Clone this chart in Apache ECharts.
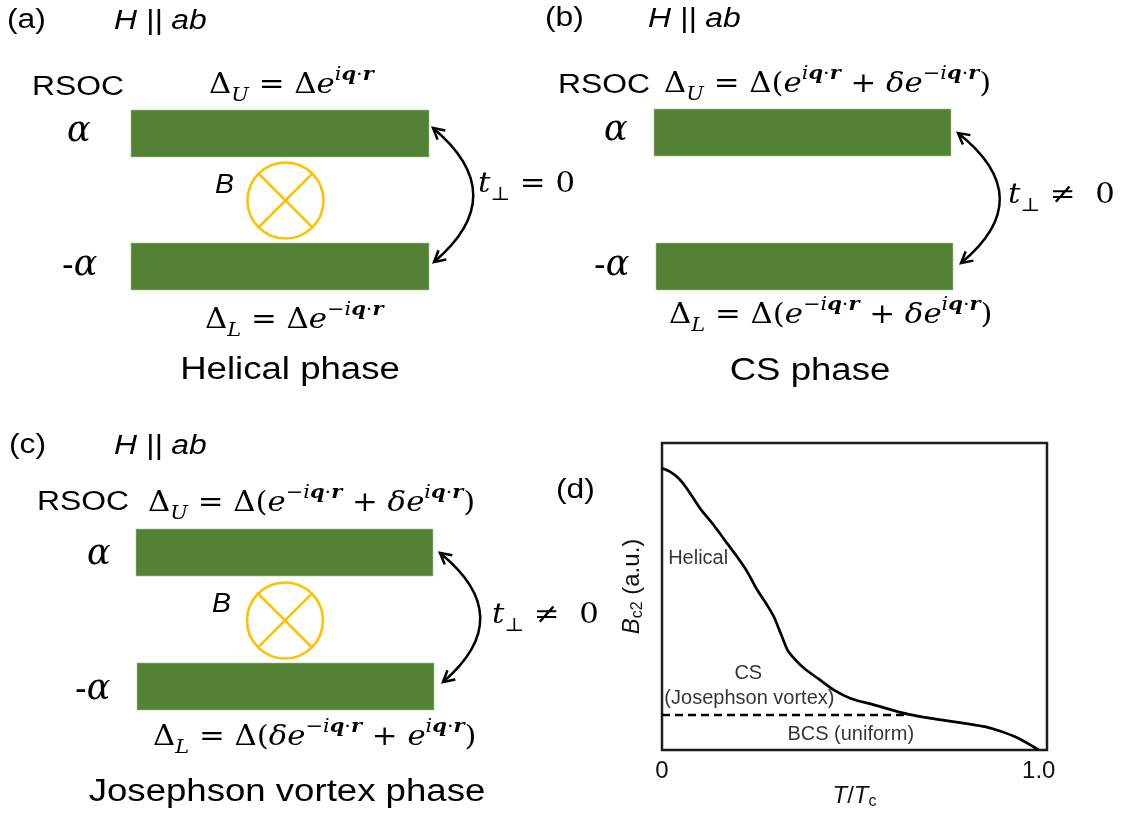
<!DOCTYPE html>
<html>
<head>
<meta charset="utf-8">
<script src="https://cdn.jsdelivr.net/npm/echarts@6/dist/echarts.min.js"></script>
<style>
  html, body { margin: 0; padding: 0; background: #ffffff; }
  #chart { width: 1122px; height: 818px; }
</style>
</head>
<body>
<div id="chart"></div>
<script>
// ---- Panel (d): upper critical field B_c2 versus reduced temperature T/Tc ----
const tOverTc = [0, 0.021, 0.044, 0.066, 0.101, 0.137, 0.173, 0.199, 0.226, 0.253, 0.279,
                 0.297, 0.315, 0.333, 0.350, 0.377, 0.413, 0.457, 0.501, 0.563, 0.655,
                 0.741, 0.813, 0.857, 0.901, 0.946, 1.0];
const bc2 = [0.918, 0.907, 0.885, 0.852, 0.787, 0.733, 0.673, 0.630, 0.581, 0.521, 0.472,
             0.434, 0.380, 0.326, 0.299, 0.266, 0.234, 0.195, 0.168, 0.147, 0.116,
             0.098, 0.085, 0.076, 0.060, 0.038, 0.0];
// CS / BCS boundary (dashed)
const boundaryT = [0, 0.655];
const boundaryB = [0.114, 0.114];
// Region annotations
const regionNames = ['Helical', 'CS', '(Josephson vortex)', 'BCS (uniform)'];
const regionT = [0.096, 0.229, 0.232, 0.501];
const regionB = [0.625, 0.248, 0.169, 0.052];
// x-axis tick labels
const xTickValues = [0, 1];
const xTickLabels = ['0', '1.0'];

const SANS = 'Liberation Sans, Arial, sans-serif';
const SERIF = 'DejaVu Serif, serif';
const GREEN = '#548235';
const GOLD = '#FFC000';
const SANS_STRETCH = 1.18;
const MATH_STRETCH = 1.1;

// ---- rich-text styles for the formulas ----
const MS = 28;
const mathRich = {
  m:  { fontFamily: SERIF, fontSize: MS, lineHeight: 40, color: '#000' },
  mi: { fontFamily: SERIF, fontSize: MS, fontStyle: 'italic', lineHeight: 40, color: '#000' },
  sub: { fontFamily: SERIF, fontSize: 19, fontStyle: 'italic', lineHeight: 28, verticalAlign: 'bottom', color: '#000' },
  subm: { fontFamily: SERIF, fontSize: 19, lineHeight: 28, verticalAlign: 'bottom', color: '#000' },
  s:  { fontFamily: SERIF, fontSize: 19, lineHeight: 20, verticalAlign: 'top', color: '#000' },
  si: { fontFamily: SERIF, fontSize: 19, fontStyle: 'italic', lineHeight: 20, verticalAlign: 'top', color: '#000' },
  sb: { fontFamily: SERIF, fontSize: 19, fontStyle: 'italic', fontWeight: 'bold', lineHeight: 20, verticalAlign: 'top', color: '#000' }
};

function phase(neg) {
  return (neg ? '{s|−}' : '') + '{si|i}{sb|q}{s|·}{sb|r}';
}
const fHelU = '{m|Δ}{sub|U}{m| = Δ}{mi|e}' + phase(false);
const fHelL = '{m|Δ}{sub|L}{m| = Δ}{mi|e}' + phase(true);
const fCsU = '{m|Δ}{sub|U}{m| = Δ(}{mi|e}' + phase(false) + '{m| + }{mi|δe}' + phase(true) + '{m|)}';
const fCsL = '{m|Δ}{sub|L}{m| = Δ(}{mi|e}' + phase(true) + '{m| + }{mi|δe}' + phase(false) + '{m|)}';
const fJvU = '{m|Δ}{sub|U}{m| = Δ(}{mi|e}' + phase(true) + '{m| + }{mi|δe}' + phase(false) + '{m|)}';
const fJvL = '{m|Δ}{sub|L}{m| = Δ(}{mi|δe}' + phase(true) + '{m| + }{mi|e}' + phase(false) + '{m|)}';
const tZero = '{mi|t}{subm|⊥}{m| = 0}';
const tNonZero = '{mi|t}{subm|⊥}{m| ≠  0}';

// ---- small drawing helpers for the bilayer schematics ----
function sansText(x, y, text, opt) {
  opt = opt || {};
  return {
    type: 'text', x: x, y: y, scaleX: opt.stretch || SANS_STRETCH, silent: true,
    style: {
      text: text, x: 0, y: 0,
      fontFamily: SANS, fontSize: opt.size || 27, fontStyle: opt.italic ? 'italic' : 'normal',
      align: opt.align || 'left', verticalAlign: 'middle', fill: '#000'
    }
  };
}
function mathText(x, y, text) {
  return {
    type: 'text', x: x, y: y, scaleX: MATH_STRETCH, silent: true,
    style: { text: text, x: 0, y: 0, rich: mathRich, align: 'left', verticalAlign: 'middle', fill: '#000' }
  };
}
function alphaText(x, y, neg) {
  return {
    type: 'text', x: x, y: y, silent: true,
    style: {
      text: neg ? '{h|-}{a|α}' : '{a|α}', x: 0, y: 0, align: 'left', verticalAlign: 'middle',
      rich: {
        h: { fontFamily: SANS, fontSize: 35, color: '#000', lineHeight: 40 },
        a: { fontFamily: SERIF, fontStyle: 'italic', fontSize: 35, color: '#000', lineHeight: 40 }
      }
    }
  };
}
function layer(x, y, w, h) {
  return { type: 'rect', silent: true, shape: { x: x, y: y, width: w, height: h },
           style: { fill: GREEN, stroke: '#a8c496', lineWidth: 0.6 } };
}
function fieldSymbol(cx, cy, r) {
  const d = r * Math.SQRT1_2;
  const st = { stroke: GOLD, lineWidth: 2.6, fill: null };
  return [
    { type: 'circle', silent: true, shape: { cx: cx, cy: cy, r: r }, style: st },
    { type: 'line', silent: true, shape: { x1: cx - d, y1: cy - d, x2: cx + d, y2: cy + d }, style: st },
    { type: 'line', silent: true, shape: { x1: cx + d, y1: cy - d, x2: cx - d, y2: cy + d }, style: st }
  ];
}
function arrowHead(tipX, tipY, fromX, fromY) {
  const dx = tipX - fromX, dy = tipY - fromY;
  const len = Math.hypot(dx, dy);
  const ux = dx / len, uy = dy / len;
  const L = 11, W = 6;
  const bx = tipX - ux * L, by = tipY - uy * L;
  return {
    type: 'polyline', silent: true,
    shape: { points: [[bx - uy * W, by + ux * W], [tipX, tipY], [bx + uy * W, by - ux * W]] },
    style: { stroke: '#000', lineWidth: 2.5, fill: null, lineJoin: 'miter' }
  };
}
function hopArrow(x1, y1, x2, y2, cpx, cpy) {
  return [
    { type: 'bezierCurve', silent: true, shape: { x1: x1, y1: y1, x2: x2, y2: y2, cpx1: cpx, cpy1: cpy },
      style: { stroke: '#000', lineWidth: 2.5, fill: null } },
    arrowHead(x1, y1, cpx, cpy),
    arrowHead(x2, y2, cpx, cpy)
  ];
}

function bilayerPanel(p) {
  let els = [];
  els.push(sansText(p.tag[0], p.tag[1], p.tag[2]));
  els.push(sansText(p.field[0], p.field[1], 'H || ab', { italic: true }));
  els.push(sansText(p.rsoc[0], p.rsoc[1], 'RSOC'));
  els.push(mathText(p.upperEq[0], p.upperEq[1], p.upperEq[2]));
  els.push(layer.apply(null, p.upperBar));
  els.push(layer.apply(null, p.lowerBar));
  els.push(alphaText(p.alpha[0], p.alpha[1], false));
  els.push(alphaText(p.minusAlpha[0], p.minusAlpha[1], true));
  if (p.field3d) {
    els.push(sansText(p.field3d.label[0], p.field3d.label[1], 'B', { italic: true, size: 27, stretch: 1.05 }));
    els = els.concat(fieldSymbol(p.field3d.c[0], p.field3d.c[1], p.field3d.c[2]));
  }
  els = els.concat(hopArrow.apply(null, p.arrow));
  els.push(mathText(p.hop[0], p.hop[1], p.hop[2]));
  els.push(mathText(p.lowerEq[0], p.lowerEq[1], p.lowerEq[2]));
  els.push(sansText(p.caption[0], p.caption[1], p.caption[2], { align: 'center', size: 31 }));
  return els;
}

const diagram = []
  .concat(bilayerPanel({
    tag: [7, 21, '(a)'], field: [114, 21], rsoc: [32, 88],
    upperEq: [209, 86, fHelU], lowerEq: [205, 321, fHelL],
    upperBar: [131, 110, 298, 47], lowerBar: [131, 243, 298, 47],
    alpha: [67, 132], minusAlpha: [62, 266],
    field3d: { label: [215, 185], c: [285.5, 200.5, 38] },
    arrow: [433, 128, 434, 262, 513, 195], hop: [478, 185, tZero],
    caption: [290, 370, 'Helical phase']
  }))
  .concat(bilayerPanel({
    tag: [545, 19, '(b)'], field: [648, 19], rsoc: [558, 86],
    upperEq: [664, 85, fCsU], lowerEq: [669, 316, fCsL],
    upperBar: [654, 109, 297, 47], lowerBar: [656, 243, 297, 47],
    alpha: [604, 131], minusAlpha: [594, 266],
    arrow: [958, 133, 961, 263, 1040, 198], hop: [1008, 196, tNonZero],
    caption: [810, 371, 'CS phase']
  }))
  .concat(bilayerPanel({
    tag: [9, 446, '(c)'], field: [114, 446], rsoc: [37, 503],
    upperEq: [148, 504, fJvU], lowerEq: [153, 738, fJvL],
    upperBar: [136, 529, 297, 47], lowerBar: [137, 663, 297, 47],
    alpha: [87, 555], minusAlpha: [75, 690],
    field3d: { label: [212, 604], c: [285, 620.5, 38] },
    arrow: [440, 553, 443, 682, 519, 617], hop: [492, 616, tNonZero],
    caption: [287, 792, 'Josephson vortex phase']
  }));
diagram.push(sansText(556, 491, '(d)'));

const chart = echarts.init(document.getElementById('chart'), null, { renderer: 'canvas' });

const axisTitleRich = {
  i: { fontFamily: SANS, fontStyle: 'italic', fontSize: 24, color: '#111', lineHeight: 28 },
  n: { fontFamily: SANS, fontSize: 24, color: '#111', lineHeight: 28 },
  s: { fontFamily: SANS, fontSize: 16, color: '#111', lineHeight: 22, verticalAlign: 'bottom' }
};

chart.setOption({
  backgroundColor: '#ffffff',
  animation: false,
  grid: {
    left: 662, top: 443, width: 385, height: 307,
    show: true, borderColor: '#1c1c1c', borderWidth: 2.5, backgroundColor: 'transparent'
  },
  xAxis: {
    type: 'value', min: 0, max: 1.022,
    axisLine: { show: false }, axisTick: { show: false }, splitLine: { show: false },
    axisLabel: {
      customValues: xTickValues,
      formatter: function (v) { return xTickLabels[xTickValues.indexOf(v)]; },
      fontFamily: SANS, fontSize: 24, color: '#111', margin: 9
    },
    name: '{i|T}{n|/}{i|T}{s|c}', nameLocation: 'middle', nameGap: 29,
    nameTextStyle: { rich: axisTitleRich }
  },
  yAxis: {
    type: 'value', min: 0, max: 1,
    axisLine: { show: false }, axisTick: { show: false }, splitLine: { show: false },
    axisLabel: { show: false },
    name: '{i|B}{s|c2}{n| (a.u.)}', nameLocation: 'middle', nameGap: 16,
    nameTextStyle: { padding: [0, 0, 0, 20], rich: axisTitleRich }
  },
  series: [
    {
      name: 'Bc2', type: 'line', smooth: 0.25, showSymbol: false, silent: true,
      lineStyle: { color: '#000', width: 2.7 },
      data: tOverTc.map(function (t, i) { return [t, bc2[i]]; })
    },
    {
      name: 'boundary', type: 'line', showSymbol: false, silent: true,
      lineStyle: { color: '#000', width: 2.6, type: [8, 5] },
      data: boundaryT.map(function (t, i) { return [t, boundaryB[i]]; })
    },
    {
      name: 'regions', type: 'scatter', symbolSize: 0, silent: true,
      label: {
        show: true, position: 'inside', fontFamily: SANS, fontSize: 20, color: '#000',
        formatter: function (p) { return regionNames[p.dataIndex]; }
      },
      data: regionT.map(function (t, i) { return [t, regionB[i]]; })
    }
  ],
  graphic: { elements: diagram }
});
</script>
</body>
</html>
